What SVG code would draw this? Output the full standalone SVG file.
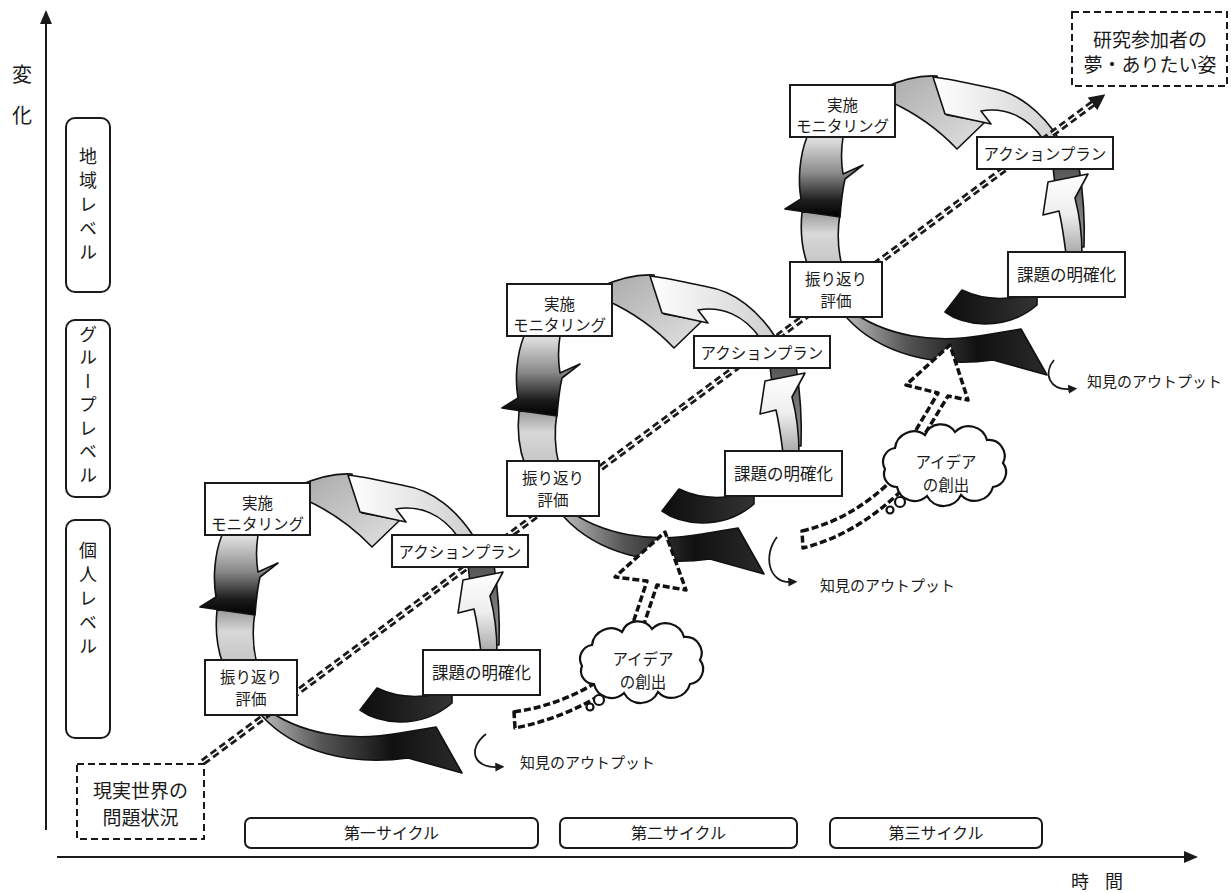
<svg xmlns="http://www.w3.org/2000/svg" width="1231" height="893" viewBox="0 0 1231 893">
<defs>
<style>
text { font-family: "Noto Sans CJK JP", "Noto Sans", sans-serif; fill: #1a1a1a; }
.box { fill: #fff; stroke: #1a1a1a; stroke-width: 2; }
.lbl { font-size: 15.5px; text-anchor: middle; }
.lvl { fill: #fff; stroke: #1a1a1a; stroke-width: 2; }
.vt { font-size: 18px; writing-mode: vertical-rl; letter-spacing: 6px; }
.piece { stroke: #111; stroke-width: 1.6; stroke-linejoin: round; }
.idea { fill: #fff; stroke: #111; stroke-width: 3.5; stroke-dasharray: 7 3; stroke-linejoin: round; }
.cloud { fill: #fff; stroke: #111; stroke-width: 2.2; }
.dash { fill: #fff; stroke: #1a1a1a; stroke-width: 2; stroke-dasharray: 7 4; }
.axis { stroke: #1a1a1a; stroke-width: 2; fill: none; }
.out { fill: none; stroke: #1a1a1a; stroke-width: 1.8; }
.small { font-size: 15px; }
.cyc { font-size: 16px; text-anchor: middle; }
</style>
<linearGradient id="gL1" x1="0" y1="0" x2="0" y2="1">
<stop offset="0" stop-color="#e4e4e4"/><stop offset="0.45" stop-color="#8a8a8a"/><stop offset="0.8" stop-color="#1c1c1c"/><stop offset="1" stop-color="#000"/>
</linearGradient>
<linearGradient id="gL2" x1="0" y1="0" x2="0" y2="1">
<stop offset="0" stop-color="#9a9a9a"/><stop offset="0.4" stop-color="#d8d8d8"/><stop offset="1" stop-color="#c4c4c4"/>
</linearGradient>
<linearGradient id="gB" x1="0" y1="0" x2="1" y2="0">
<stop offset="0" stop-color="#b8b8b8"/><stop offset="0.3" stop-color="#555"/><stop offset="0.65" stop-color="#111"/><stop offset="1" stop-color="#2a2a2a"/>
</linearGradient>
<linearGradient id="gK" x1="0" y1="0" x2="1" y2="0">
<stop offset="0" stop-color="#0d0d0d"/><stop offset="1" stop-color="#333"/>
</linearGradient>
<linearGradient id="gR" x1="0" y1="0" x2="0" y2="1">
<stop offset="0" stop-color="#fff"/><stop offset="0.5" stop-color="#eee"/><stop offset="1" stop-color="#a8a8a8"/>
</linearGradient>
<linearGradient id="gR2" x1="0" y1="0" x2="0" y2="1">
<stop offset="0" stop-color="#555"/><stop offset="1" stop-color="#999"/>
</linearGradient>
<linearGradient id="gT1" x1="0" y1="0" x2="1" y2="1">
<stop offset="0" stop-color="#a8a8a8"/><stop offset="1" stop-color="#e2e2e2"/>
</linearGradient>
<linearGradient id="gT2" x1="0" y1="0" x2="1" y2="0">
<stop offset="0" stop-color="#fff"/><stop offset="1" stop-color="#cfcfcf"/>
</linearGradient>
<marker id="tip" viewBox="0 0 10 10" refX="2" refY="5" markerWidth="2.3" markerHeight="2.3" orient="auto" markerUnits="strokeWidth">
<path d="M0,0 L10,5 L0,10 Z" fill="#1a1a1a"/>
</marker>
<marker id="small-tip" viewBox="0 0 10 10" refX="3" refY="5" markerWidth="9" markerHeight="9" orient="auto" markerUnits="userSpaceOnUse">
<path d="M0,0 L10,5 L0,10 Z" fill="#1a1a1a"/>
</marker>
<!-- one PDCA ring of gradient arrow pieces -->
<g id="ring">
<path class="piece" fill="url(#gT1)" d="M 298,486 C 318,477 336,473 352,474 L 362,513 L 400,520 L 372,547 C 352,526 330,511 306,500 Z"/>
<path class="piece" fill="url(#gT2)" d="M 474,537 C 457,510 432,490 406,486 C 386,482 366,477 348,475 L 360,512 L 406,522 L 396,509 C 420,505 442,514 458,537 Z"/>
<path class="piece" fill="url(#gL2)" d="M 217,610 C 215,630 217,648 223,664 L 257,664 C 253,648 252,630 255,612 Z"/>
<path class="piece" fill="url(#gL1)" d="M 222,535 C 214,555 213,580 216,597 L 200,607 L 255,615 C 256,602 257,590 260,577 L 278,563 L 258,572 C 256,560 256,548 258,535 Z"/>
<path class="piece" fill="url(#gR2)" d="M 468,565 L 494,565 C 498,590 500,620 499,645 L 489,645 C 489,612 485,592 470,583 Z"/>
<path class="piece" fill="url(#gK)" d="M 360,710 L 377,688 Q 402,700 432,695 L 452,692 L 452,703 Q 430,722 400,722 Q 375,721 360,710 Z"/>
<path class="piece" fill="url(#gR)" d="M 481,652 C 479,636 477,622 474,609 L 458,613 L 463,580 L 503,572 L 490,596 C 495,615 497,632 497,652 Z"/>
<path class="piece" fill="url(#gB)" d="M 262,706 C 300,735 350,742 400,733 L 436,727 L 462,773 L 408,758 C 350,766 295,752 262,716 Z"/>
</g>
<path id="cloud" d="M 582,666 A 14,14 0 0 1 592,645 A 19,19 0 0 1 622,632 A 17,17 0 0 1 652,629 A 19,19 0 0 1 684,637 A 16,16 0 0 1 700,660 A 15,15 0 0 1 690,684 A 19,19 0 0 1 658,692 A 19,19 0 0 1 624,693 A 18,18 0 0 1 594,684 A 13,13 0 0 1 582,666 Z"/>
</defs>

<rect width="1231" height="893" fill="#fff"/>

<!-- axes -->
<g id="axes">
<line class="axis" x1="46" y1="830" x2="46" y2="22"/>
<path d="M46,10 L40,24 L52,24 Z" fill="#1a1a1a"/>
<line class="axis" x1="57" y1="857" x2="1186" y2="857"/>
<path d="M1198,857 L1184,851 L1184,863 Z" fill="#1a1a1a"/>
<text x="12" y="82" font-size="20">変</text>
<text x="12" y="123" font-size="20">化</text>
<text x="1071" y="888" font-size="18">時</text>
<text x="1105" y="888" font-size="18">間</text>
</g>

<!-- change levels -->
<g id="level-region">
<rect class="lvl" x="66" y="118" width="44" height="174" rx="9"/>
<text class="vt" x="88" y="147">地域レベル</text>
</g>
<g id="level-group">
<rect class="lvl" x="66" y="320" width="44" height="177" rx="9"/>
<text class="vt" x="88" y="325" style="letter-spacing:5.5px">グループレベル</text>
</g>
<g id="level-individual">
<rect class="lvl" x="66" y="520" width="44" height="218" rx="9"/>
<text class="vt" x="88" y="541">個人レベル</text>
</g>

<!-- rings -->
<g id="ring-1"><use href="#ring"/></g>
<g id="ring-2"><use href="#ring" transform="translate(302,-199)"/></g>
<g id="ring-3"><use href="#ring" transform="translate(585,-398)"/></g>

<!-- connectors -->
<g id="connectors">
<path d="M 203,762 L 1095,102" fill="none" stroke="#1a1a1a" stroke-width="7" stroke-dasharray="7 4" marker-end="url(#tip)"/>
<path d="M 203,762 L 1095,102" fill="none" stroke="#fff" stroke-width="1.5" stroke-dasharray="7 4"/>
<path class="idea" d="M 514,712 Q 560,705 595,683 L 630,632 L 647,581 L 615,577 L 665,532 L 686,590 L 657,585 L 641,633 L 605,692 Q 565,718 515,728 Z"/>
<path class="idea" d="M 802,531 Q 850,520 890,482 L 913,435 L 938,393 L 906,385 L 950,345 L 968,400 L 948,396 L 923,437 L 900,492 Q 855,535 803,548 Z"/>
<path class="out" d="M 486,734 C 468,748 472,768 498,767" marker-end="url(#small-tip)"/>
<path class="out" d="M 777,537 C 763,555 768,583 791,582" marker-end="url(#small-tip)"/>
<path class="out" d="M 1054,360 C 1043,373 1049,391 1071,389" marker-end="url(#small-tip)"/>
</g>

<!-- idea clouds -->
<g id="idea-1">
<use href="#cloud" class="cloud"/>
<circle class="cloud" cx="599" cy="700" r="5"/>
<circle class="cloud" cx="590" cy="707" r="3.5"/>
<text class="lbl" x="643" y="665">アイデア</text>
<text class="lbl" x="643" y="688">の創出</text>
</g>
<g id="idea-2">
<use href="#cloud" class="cloud" transform="translate(303,-197)"/>
<circle class="cloud" cx="900" cy="502" r="5"/>
<circle class="cloud" cx="890" cy="510" r="3.5"/>
<text class="lbl" x="946" y="468">アイデア</text>
<text class="lbl" x="946" y="491">の創出</text>
</g>

<!-- outputs -->
<g id="output-1"><text class="small" x="520" y="768">知見のアウトプット</text></g>
<g id="output-2"><text class="small" x="820" y="591">知見のアウトプット</text></g>
<g id="output-3"><text class="small" x="1087" y="387">知見のアウトプット</text></g>

<!-- cycle 1 steps -->
<g id="c1-do"><rect class="box" x="205" y="483" width="105" height="52"/><text class="lbl" x="257.5" y="509">実施</text><text class="lbl" x="257.5" y="530">モニタリング</text></g>
<g id="c1-plan"><rect class="box" x="392" y="535" width="136" height="32"/><text class="lbl" x="460" y="558">アクションプラン</text></g>
<g id="c1-issue"><rect class="box" x="423" y="650" width="117" height="45"/><text class="lbl" x="481.5" y="679" style="font-size:16.5px">課題の明確化</text></g>
<g id="c1-review"><rect class="box" x="205" y="660" width="92" height="55"/><text class="lbl" x="251" y="683">振り返り</text><text class="lbl" x="251" y="705">評価</text></g>

<!-- cycle 2 steps -->
<g transform="translate(302,-199)">
<g id="c2-do"><rect class="box" x="205" y="483" width="105" height="52"/><text class="lbl" x="257.5" y="509">実施</text><text class="lbl" x="257.5" y="530">モニタリング</text></g>
<g id="c2-plan"><rect class="box" x="392" y="535" width="136" height="32"/><text class="lbl" x="460" y="558">アクションプラン</text></g>
<g id="c2-issue"><rect class="box" x="423" y="650" width="117" height="45"/><text class="lbl" x="481.5" y="679" style="font-size:16.5px">課題の明確化</text></g>
<g id="c2-review"><rect class="box" x="205" y="660" width="92" height="55"/><text class="lbl" x="251" y="683">振り返り</text><text class="lbl" x="251" y="705">評価</text></g>
</g>

<!-- cycle 3 steps -->
<g transform="translate(585,-398)">
<g id="c3-do"><rect class="box" x="205" y="483" width="105" height="52"/><text class="lbl" x="257.5" y="509">実施</text><text class="lbl" x="257.5" y="530">モニタリング</text></g>
<g id="c3-plan"><rect class="box" x="392" y="535" width="136" height="32"/><text class="lbl" x="460" y="558">アクションプラン</text></g>
<g id="c3-issue"><rect class="box" x="423" y="650" width="117" height="45"/><text class="lbl" x="481.5" y="679" style="font-size:16.5px">課題の明確化</text></g>
<g id="c3-review"><rect class="box" x="205" y="660" width="92" height="55"/><text class="lbl" x="251" y="683">振り返り</text><text class="lbl" x="251" y="705">評価</text></g>
</g>

<!-- start and goal -->
<g id="start"><rect class="dash" x="77" y="764" width="127" height="75"/><text class="lbl" x="140.5" y="798" style="font-size:19px">現実世界の</text><text class="lbl" x="140.5" y="825" style="font-size:19px">問題状況</text></g>
<g id="goal"><rect class="dash" x="1072" y="12" width="155" height="74"/><text class="lbl" x="1150" y="47" style="font-size:19px">研究参加者の</text><text class="lbl" x="1150" y="72" style="font-size:19px">夢・ありたい姿</text></g>

<!-- cycle spans -->
<g id="cycle-1"><rect class="box" x="245" y="818" width="293" height="30" rx="6"/><text class="cyc" x="391.5" y="839">第一サイクル</text></g>
<g id="cycle-2"><rect class="box" x="560" y="818" width="237" height="30" rx="6"/><text class="cyc" x="678.5" y="839">第二サイクル</text></g>
<g id="cycle-3"><rect class="box" x="830" y="818" width="212" height="30" rx="6"/><text class="cyc" x="936" y="839">第三サイクル</text></g>
</svg>
